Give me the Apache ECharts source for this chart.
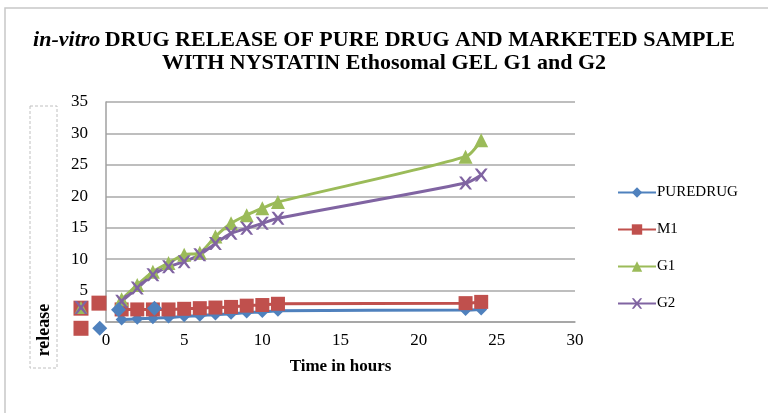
<!DOCTYPE html>
<html><head><meta charset="utf-8">
<script src="https://cdn.jsdelivr.net/npm/echarts@6/dist/echarts.min.js"></script>
<style>html,body{margin:0;padding:0;background:#fff}#c{width:768px;height:413px}</style>
</head><body><div id="c"></div>
<script>
// ---- data ----
const timeHours = [1, 2, 3, 4, 5, 6, 7, 8, 9, 10, 11, 23, 24];
const pureDrug  = [0.4, 0.5, 0.6, 0.7, 0.9, 1.0, 1.2, 1.3, 1.5, 1.6, 1.8, 1.9, 2.0];
const m1        = [2.0, 2.0, 2.0, 2.0, 2.1, 2.2, 2.3, 2.4, 2.6, 2.7, 2.9, 3.0, 3.2];
const g1        = [3.6, 5.9, 8.0, 9.4, 10.7, 11.0, 13.6, 15.7, 17.0, 18.1, 19.1, 26.3, 28.9];
const g2        = [3.3, 5.4, 7.5, 8.8, 9.6, 10.7, 12.5, 14.1, 14.9, 15.7, 16.5, 22.1, 23.4];
// stray markers seen near the origin in the reference
const strayPure = [[-0.4, -1.0], [0.8, 1.95], [3.1, 2.2]];
const strayM1   = [[-1.6, 2.2], [-0.45, 3.0], [-1.6, -1.0]];
const strayG1   = [[-1.6, 2.3]];
const strayG2   = [[-1.6, 2.3]];
const seriesNames = ['PUREDRUG', 'M1', 'G1', 'G2'];
const titleLine1Italic = 'in-vitro';
const titleLine1 = 'DRUG RELEASE OF PURE DRUG AND MARKETED SAMPLE';
const titleLine2 = 'WITH NYSTATIN Ethosomal GEL G1 and G2';
const xTicks = { min: 0, max: 30, interval: 5 };
const yTicks = { min: 0, max: 35, interval: 5 };

const colors = ['#4F81BD', '#C0504D', '#9BBB59', '#8064A2'];
const starPath = 'path://M0,0L2,0L5,3.5L8,0L10,0L6.3,5L10,10L8,10L5,6.5L2,10L0,10L3.7,5Z';
const pair = arr => timeHours.map((t, i) => [t, arr[i]]);
const serif = '"Liberation Serif", "DejaVu Serif", serif';

const chart = echarts.init(document.getElementById('c'), null, { renderer: 'canvas' });
const lineBase = (name, data, color, symbol, size) => ({
  name, type: 'line', data: pair(data), smooth: 0.25,
  symbol, symbolSize: size, showAllSymbol: true,
  lineStyle: { color, width: 3 }, itemStyle: { color },
  clip: false, z: 3
});
const stray = (data, color, symbol, size) => ({
  type: 'scatter', data, symbol, symbolSize: size, itemStyle: { color, opacity: 1 },
  clip: false, z: 5, silent: true, legendHoverLink: false
});

chart.setOption({
  animation: false,
  textStyle: { fontFamily: serif },
  title: [
    {
      left: 'center', top: 24,
      text: '{i|' + titleLine1Italic + '} {b|' + titleLine1 + '}',
      textStyle: {
        rich: {
          i: { fontFamily: serif, fontStyle: 'italic', fontWeight: 'bold', fontSize: 22, color: '#000' },
          b: { fontFamily: serif, fontWeight: 'bold', fontSize: 22, color: '#000' }
        }
      }
    },
    {
      left: 'center', top: 47,
      text: titleLine2,
      textStyle: { fontFamily: serif, fontWeight: 'bold', fontSize: 22, color: '#000' }
    }
  ],
  legend: {
    orient: 'vertical', left: 612, top: 180, itemGap: 22, itemWidth: 38, itemHeight: 13,
    data: seriesNames,
    textStyle: { fontFamily: serif, fontSize: 15, color: '#000', padding: [0, 0, 0, -4] }
  },
  grid: { left: 106, right: 193, top: 102, bottom: 91 },
  xAxis: {
    type: 'value', min: xTicks.min, max: xTicks.max, interval: xTicks.interval,
    name: 'Time in hours', nameLocation: 'middle', nameGap: 36,
    nameTextStyle: { fontFamily: serif, fontWeight: 'bold', fontSize: 17, color: '#000' },
    axisLine: { show: true, lineStyle: { color: '#a0a0a0', width: 1.5 } },
    axisTick: { show: false },
    splitLine: { show: false },
    axisLabel: { fontFamily: serif, fontSize: 17, color: '#000', margin: 10 }
  },
  yAxis: {
    type: 'value', min: yTicks.min, max: yTicks.max, interval: yTicks.interval,
    axisLine: { show: true, lineStyle: { color: '#a0a0a0', width: 1.5 } },
    axisTick: { show: false },
    splitLine: { show: true, lineStyle: { color: '#a8a8a8', width: 1.5 } },
    axisLabel: {
      fontFamily: serif, fontSize: 17, color: '#000', margin: 18, padding: [0, 0, 9, 0],
      formatter: v => (v === 0 ? '' : String(v))
    }
  },
  series: [
    lineBase(seriesNames[0], pureDrug, colors[0], 'diamond', 12),
    lineBase(seriesNames[1], m1, colors[1], 'rect', 14),
    lineBase(seriesNames[2], g1, colors[2], 'triangle', 14),
    lineBase(seriesNames[3], g2, colors[3], starPath, 13),
    stray(strayPure, colors[0], 'diamond', 15),
    stray(strayM1, colors[1], 'rect', 15),
    stray(strayG1, colors[2], 'triangle', 13),
    stray(strayG2, colors[3], starPath, 13)
  ],
  graphic: [
    { type: 'rect', shape: { x: 5, y: 8, width: 800, height: 420 }, style: { fill: 'none', stroke: '#c8c8c8', lineWidth: 1.5 }, silent: true },
    { type: 'rect', shape: { x: 30, y: 106, width: 27, height: 262 }, style: { fill: 'none', stroke: '#c0c0c0', lineWidth: 1, lineDash: [3, 2] }, silent: true },
    { type: 'text', x: 44, y: 330, rotation: Math.PI / 2, style: { text: 'release', fontFamily: serif, fontWeight: 'bold', fontSize: 18, fill: '#000', align: 'center', verticalAlign: 'middle' }, silent: true }
  ]
});
</script></body></html>
